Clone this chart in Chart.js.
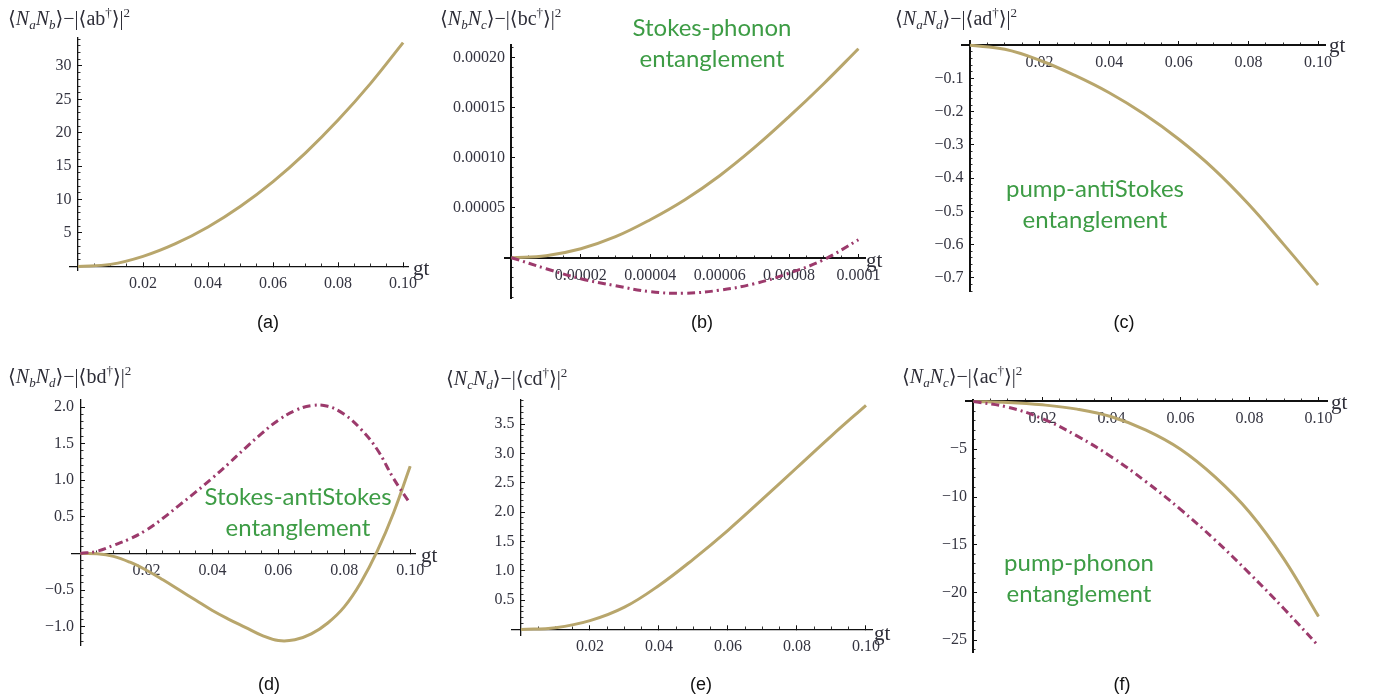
<!DOCTYPE html>
<html>
<head>
<meta charset="utf-8">
<script src="https://cdn.jsdelivr.net/npm/chart.js@4.4.1/dist/chart.umd.min.js"></script>
<style>
  html, body { margin:0; padding:0; background:#fff; }
  #wrap { position:relative; width:1383px; height:700px; overflow:hidden; }
  canvas { position:absolute; left:0; top:0; }
  .ttl { position:absolute; font-family:"Liberation Serif","DejaVu Serif",serif; font-size:20px; color:#2e2e38; white-space:nowrap; line-height:1; }
  .ttl sub { font-size:13px; vertical-align:-4px; }
  .ttl sup { font-size:13px; vertical-align:8px; }
  .gt { position:absolute; font-family:"Liberation Serif",serif; font-size:21px; color:#2e2e38; line-height:1; }
  .pl { position:absolute; font-family:"Liberation Sans",Arial,sans-serif; font-size:18px; color:#111; transform:translate(-50%,-50%); }
  .gr { position:absolute; font-family:Lato,"Open Sans",sans-serif; font-size:24px; color:#3d9c45; text-align:center; line-height:31px; transform:translateX(-50%); white-space:nowrap; }
</style>
</head>
<body>
<div id="wrap">
  <canvas id="ca" width="1383" height="700"></canvas>
  <canvas id="cb" width="1383" height="700"></canvas>
  <canvas id="cc" width="1383" height="700"></canvas>
  <canvas id="cd" width="1383" height="700"></canvas>
  <canvas id="ce" width="1383" height="700"></canvas>
  <canvas id="cf" width="1383" height="700"></canvas>

  <div class="ttl" style="left:8px;top:6px">⟨<i>N</i><sub><i>a</i></sub><i>N</i><sub><i>b</i></sub>⟩−|⟨ab<sup>†</sup>⟩|<sup>2</sup></div>
  <div class="ttl" style="left:440px;top:6px">⟨<i>N</i><sub><i>b</i></sub><i>N</i><sub><i>c</i></sub>⟩−|⟨bc<sup>†</sup>⟩|<sup>2</sup></div>
  <div class="ttl" style="left:895px;top:6px">⟨<i>N</i><sub><i>a</i></sub><i>N</i><sub><i>d</i></sub>⟩−|⟨ad<sup>†</sup>⟩|<sup>2</sup></div>
  <div class="ttl" style="left:8px;top:364px">⟨<i>N</i><sub><i>b</i></sub><i>N</i><sub><i>d</i></sub>⟩−|⟨bd<sup>†</sup>⟩|<sup>2</sup></div>
  <div class="ttl" style="left:446px;top:366px">⟨<i>N</i><sub><i>c</i></sub><i>N</i><sub><i>d</i></sub>⟩−|⟨cd<sup>†</sup>⟩|<sup>2</sup></div>
  <div class="ttl" style="left:902px;top:364px">⟨<i>N</i><sub><i>a</i></sub><i>N</i><sub><i>c</i></sub>⟩−|⟨ac<sup>†</sup>⟩|<sup>2</sup></div>

  <div class="gt" style="left:413px;top:258px">gt</div>
  <div class="gt" style="left:866px;top:250px">gt</div>
  <div class="gt" style="left:1329px;top:35px">gt</div>
  <div class="gt" style="left:421px;top:545px">gt</div>
  <div class="gt" style="left:874px;top:623px">gt</div>
  <div class="gt" style="left:1331px;top:392px">gt</div>

  <div class="pl" style="left:268px;top:322px">(a)</div>
  <div class="pl" style="left:702px;top:322px">(b)</div>
  <div class="pl" style="left:1124px;top:322px">(c)</div>
  <div class="pl" style="left:269px;top:684px">(d)</div>
  <div class="pl" style="left:701px;top:684px">(e)</div>
  <div class="pl" style="left:1122px;top:684px">(f)</div>

  <div class="gr" style="left:712px;top:11px">Stokes-phonon<br>entanglement</div>
  <div class="gr" style="left:1095px;top:172px">pump-antiStokes<br>entanglement</div>
  <div class="gr" style="left:298px;top:480px">Stokes-antiStokes<br>entanglement</div>
  <div class="gr" style="left:1079px;top:546px">pump-phonon<br>entanglement</div>
</div>
<script>
// ---------- data ----------
const gt = [0, 0.01, 0.02, 0.03, 0.04, 0.05, 0.06, 0.07, 0.08, 0.09, 0.10];
const gtB = [0, 0.00001, 0.00002, 0.00003, 0.00004, 0.00005, 0.00006, 0.00007, 0.00008, 0.00009, 0.0001];
const gtD = [0, 0.005, 0.01, 0.015, 0.02, 0.025, 0.03, 0.035, 0.04, 0.045, 0.05,
             0.055, 0.06, 0.065, 0.07, 0.075, 0.08, 0.085, 0.09, 0.095, 0.10];

// (a) <NaNb> - |<ab†>|^2
const abSolid = [0, 0.3, 1.5, 3.4, 5.9, 9.0, 12.7, 17.0, 21.9, 27.4, 33.5];
// (b) <NbNc> - |<bc†>|^2
const bcSolid = [0, 0.000002, 0.000009, 0.000021, 0.000038, 0.000058, 0.000082, 0.00011, 0.000141, 0.000174, 0.000209];
const bcDashDot = [0, -0.000011, -0.000021, -0.000028, -0.000034, -0.0000355, -0.0000325, -0.000026, -0.0000155, -0.000002, 0.000018];
// (c) <NaNd> - |<ad†>|^2
const adSolid = [0, -0.012, -0.045, -0.09, -0.143, -0.207, -0.283, -0.372, -0.478, -0.598, -0.722];
// (d) <NbNd> - |<bd†>|^2
const bdSolid = [0, -0.005, -0.04, -0.12, -0.23, -0.36, -0.50, -0.64, -0.78, -0.90, -1.01,
                 -1.12, -1.19, -1.18, -1.10, -0.95, -0.73, -0.40, 0.03, 0.56, 1.19];
const bdDashDot = [0, 0.03, 0.11, 0.20, 0.32, 0.48, 0.66, 0.84, 1.03, 1.23, 1.44,
                   1.64, 1.82, 1.95, 2.02, 2.01, 1.90, 1.70, 1.42, 1.02, 0.68];
// (e) <NcNd> - |<cd†>|^2
const cdSolid = [0, 0.03, 0.15, 0.38, 0.75, 1.20, 1.69, 2.22, 2.76, 3.30, 3.82];
// (f) <NaNc> - |<ac†>|^2
const acSolid = [0, -0.1, -0.35, -0.8, -1.6, -3.0, -5.0, -7.9, -11.6, -16.5, -22.5];
const acDashDot = [0, -0.6, -1.8, -3.6, -5.8, -8.4, -11.3, -14.5, -18.0, -21.7, -25.6];

// tick values and labels
const xTicks = [0.02, 0.04, 0.06, 0.08, 0.10];
const xTickLabels = ['0.02', '0.04', '0.06', '0.08', '0.10'];
const xTicksB = [0.00002, 0.00004, 0.00006, 0.00008, 0.0001];
const xTickLabelsB = ['0.00002', '0.00004', '0.00006', '0.00008', '0.0001'];
const yTicksA = [5, 10, 15, 20, 25, 30];
const yTickLabelsA = ['5', '10', '15', '20', '25', '30'];
const yTicksB = [0.00005, 0.0001, 0.00015, 0.0002];
const yTickLabelsB = ['0.00005', '0.00010', '0.00015', '0.00020'];
const yTicksC = [-0.1, -0.2, -0.3, -0.4, -0.5, -0.6, -0.7];
const yTickLabelsC = ['−0.1', '−0.2', '−0.3', '−0.4', '−0.5', '−0.6', '−0.7'];
const yTicksD = [-1.0, -0.5, 0.5, 1.0, 1.5, 2.0];
const yTickLabelsD = ['−1.0', '−0.5', '0.5', '1.0', '1.5', '2.0'];
const yTicksE = [0.5, 1.0, 1.5, 2.0, 2.5, 3.0, 3.5];
const yTickLabelsE = ['0.5', '1.0', '1.5', '2.0', '2.5', '3.0', '3.5'];
const yTicksF = [-5, -10, -15, -20, -25];
const yTickLabelsF = ['−5', '−10', '−15', '−20', '−25'];

// ---------- styling / layout ----------
const W = 1383, H = 700;
const SOLID = '#b8a66c', OVERLAY = '#7e7e7e', DASHDOT = '#9c3a6c';
const TICKFONT = { family: '"Liberation Serif", serif', size: 16 };
const TICKCOLOR = '#343440';
const YGAP = '\u2009\u2009';

function minorRange(lo, hi, step) {
  const out = [];
  const n0 = Math.ceil(lo / step - 1e-9), n1 = Math.floor(hi / step + 1e-9);
  for (let n = n0; n <= n1; n++) out.push(+(n * step).toPrecision(10));
  return out;
}
function pts(xs, ys) { return xs.map((x, i) => ({ x, y: ys[i] })); }

function solidSets(xs, ys) {
  return [
    { data: pts(xs, ys), borderColor: SOLID, borderWidth: 3, xAxisID: 'x', yAxisID: 'y' },
    { data: pts(xs, ys), borderColor: OVERLAY, borderWidth: 1, borderDash: [4, 4], xAxisID: 'x', yAxisID: 'y' }
  ];
}
function dashDotSet(xs, ys) {
  return { data: pts(xs, ys), borderColor: DASHDOT, borderWidth: 3, borderDash: [8, 4, 2, 4], xAxisID: 'x', yAxisID: 'y' };
}

function makeChart(id, p, datasets) {
  const ctx = document.getElementById(id);
  const majorX = {
    type: 'linear', axis: 'x', min: p.xmin, max: p.xmax, position: { y: 0 },
    afterBuildTicks: s => { s.ticks = p.xt.map(v => ({ value: v })); },
    ticks: { callback: (v, i) => p.xl[i], font: TICKFONT, color: TICKCOLOR, padding: 13, maxRotation: 0, autoSkip: false },
    grid: { drawOnChartArea: false, tickLength: -5, tickColor: '#111', tickWidth: 1 },
    border: { display: true, color: '#111', width: p.bw }
  };
  const minorX = {
    type: 'linear', axis: 'x', min: p.xmin, max: p.xmax, position: { y: 0 },
    afterBuildTicks: s => { s.ticks = minorRange(0, p.xmax, p.xm).filter(v => v > 0).map(v => ({ value: v })); },
    ticks: { callback: () => '', autoSkip: false, maxRotation: 0 },
    grid: { drawOnChartArea: false, tickLength: -2.5, tickColor: '#333', tickWidth: 1 },
    border: { display: false }
  };
  const majorY = {
    type: 'linear', axis: 'y', min: p.ymin, max: p.ymax, position: { x: 0 },
    afterBuildTicks: s => { s.ticks = p.yt.map(v => ({ value: v })); },
    ticks: { callback: (v, i) => p.yl[i] + YGAP, font: TICKFONT, color: TICKCOLOR, autoSkip: false },
    grid: { drawOnChartArea: false, tickLength: -5, tickColor: '#111', tickWidth: 1 },
    border: { display: true, color: '#111', width: p.bw }
  };
  const minorY = {
    type: 'linear', axis: 'y', min: p.ymin, max: p.ymax, position: { x: 0 },
    afterBuildTicks: s => { s.ticks = minorRange(p.ymin, p.ymax, p.ym).filter(v => Math.abs(v) > 1e-12).map(v => ({ value: v })); },
    ticks: { callback: () => '', autoSkip: false },
    grid: { drawOnChartArea: false, tickLength: -2.5, tickColor: '#333', tickWidth: 1 },
    border: { display: false }
  };
  return new Chart(ctx, {
    type: 'line',
    data: { datasets },
    options: {
      responsive: false, animation: false,
      layout: { padding: { left: p.L, top: p.T, right: W - p.R, bottom: H - p.B } },
      elements: { point: { radius: 0 }, line: { tension: 0.4, fill: false } },
      plugins: { legend: { display: false }, tooltip: { enabled: false } },
      scales: { x2: minorX, y2: minorY, x: majorX, y: majorY }
    }
  });
}

makeChart('ca', { L: 70, R: 408, T: 38, B: 270, xmin: -0.00246, xmax: 0.1015, ymin: -0.54, ymax: 34.19,
  xt: xTicks, xl: xTickLabels, yt: yTicksA, yl: yTickLabelsA, xm: 0.005, ym: 1, bw: 1.3 },
  solidSets(gt, abSolid));

makeChart('cb', { L: 505, R: 865, T: 45, B: 298, xmin: -0.00000187, xmax: 0.0001019, ymin: -0.0000403, ymax: 0.0002127,
  xt: xTicksB, xl: xTickLabelsB, yt: yTicksB, yl: yTickLabelsB, xm: 0.000005, ym: 0.00001, bw: 2 },
  [dashDotSet(gtB, bcDashDot)].concat(solidSets(gtB, bcSolid)));

makeChart('cc', { L: 962, R: 1325, T: 41, B: 291, xmin: -0.0023, xmax: 0.102, ymin: -0.74, ymax: 0.013,
  xt: xTicks, xl: xTickLabels, yt: yTicksC, yl: yTickLabelsC, xm: 0.005, ym: 0.02, bw: 2 },
  solidSets(gt, adSolid));

makeChart('cd', { L: 72, R: 415, T: 400, B: 645, xmin: -0.00258, xmax: 0.10146, ymin: -1.251, ymax: 2.096,
  xt: xTicks, xl: xTickLabels, yt: yTicksD, yl: yTickLabelsD, xm: 0.005, ym: 0.1, bw: 1.3 },
  [dashDotSet(gtD, bdDashDot)].concat(solidSets(gtD, bdSolid)));

makeChart('ce', { L: 512, R: 872, T: 400, B: 635, xmin: -0.0026, xmax: 0.10174, ymin: -0.094, ymax: 3.91,
  xt: xTicks, xl: xTickLabels, yt: yTicksE, yl: yTickLabelsE, xm: 0.005, ym: 0.1, bw: 1.3 },
  solidSets(gt, cdSolid));

makeChart('cf', { L: 966, R: 1327, T: 400, B: 652, xmin: -0.00217, xmax: 0.10246, ymin: -26.23, ymax: 0.157,
  xt: xTicks, xl: xTickLabels, yt: yTicksF, yl: yTickLabelsF, xm: 0.005, ym: 1, bw: 2 },
  [dashDotSet(gt, acDashDot)].concat(solidSets(gt, acSolid)));
</script>
</body>
</html>
